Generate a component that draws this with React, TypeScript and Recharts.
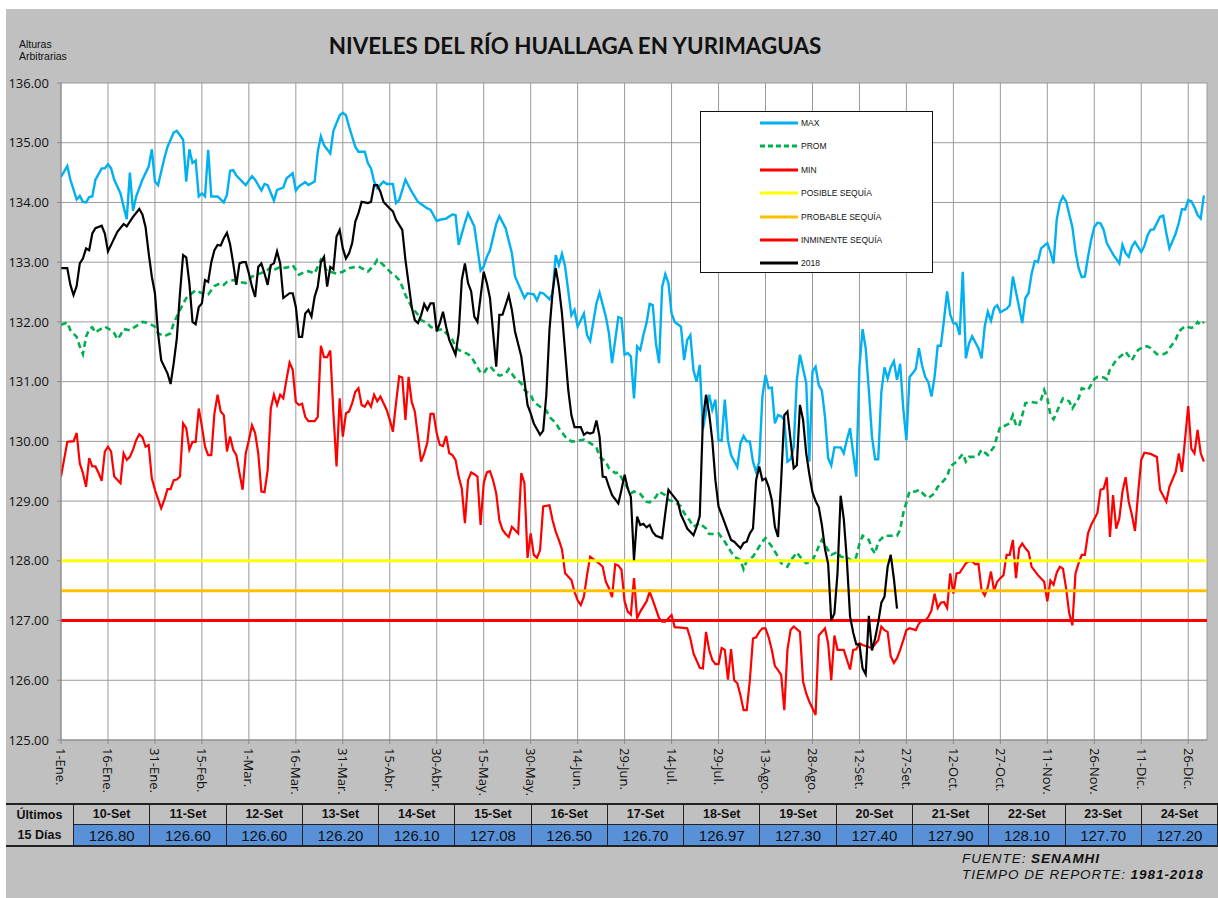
import React from "react";
import { LineChart, Line, XAxis, YAxis, CartesianGrid, ReferenceLine } from "recharts";

// dias del año (año bisiesto, como en la hoja original) y etiquetas del eje X
const ticksDias = [1, 16, 31, 46, 61, 76, 91, 106, 121, 136, 151, 166, 181, 196, 211, 226, 241, 256, 271, 286, 301, 316, 331, 346, 361];
const ticksFechas = ["1-Ene.", "16-Ene.", "31-Ene.", "15-Feb.", "1-Mar.", "16-Mar.", "31-Mar.", "15-Abr.", "30-Abr.", "15-May.", "30-May.", "14-Jun.", "29-Jun.", "14-Jul.", "29-Jul.", "13-Ago.", "28-Ago.", "12-Set.", "27-Set.", "12-Oct.", "27-Oct.", "11-Nov.", "26-Nov.", "11-Dic.", "26-Dic."];
const ticksNivel = [125, 126, 127, 128, 129, 130, 131, 132, 133, 134, 135, 136];

// umbrales de sequia
const posibleSequia = 128;
const probableSequia = 127.5;
const inminenteSequia = 127;

// [dia, nivel]
const serieMax: [number, number][] = [
  [1,134.43],[3,134.61],[4,134.38],[6,134.05],[7,134.11],[8,134.01],[9,134.0],[10,134.09],[11,134.1],[12,134.38],[14,134.57],[15,134.57],[16,134.64],[17,134.57],[18,134.38],[20,134.15],[21,133.93],[22,133.72],[23,134.5],[24,133.86],[25,134.1],[27,134.38],[29,134.6],[30,134.89],[31,134.35],[32,134.29],[34,134.74],[35,134.93],[37,135.17],[38,135.2],[40,135.05],[41,134.35],[42,134.89],[43,134.66],[44,134.7],[45,134.1],[46,134.15],[47,134.1],[48,134.88],[49,134.1],[51,134.1],[53,134.0],[54,134.13],[55,134.53],[56,134.54],[57,134.45],[60,134.29],[62,134.44],[63,134.38],[65,134.2],[66,134.31],[67,134.29],[69,134.03],[70,134.21],[72,134.25],[73,134.4],[75,134.49],[76,134.2],[77,134.27],[79,134.34],[80,134.29],[82,134.35],[83,134.85],[84,135.11],[85,134.96],[87,134.82],[88,135.2],[90,135.46],[91,135.5],[92,135.46],[93,135.27],[94,135.1],[95,134.93],[96,134.85],[98,134.85],[99,134.66],[100,134.57],[101,134.35],[102,134.24],[104,134.35],[105,134.31],[107,134.31],[108,133.99],[109,134.04],[111,134.38],[113,134.18],[115,134.01],[118,133.9],[119,133.88],[121,133.69],[122,133.71],[124,133.73],[126,133.8],[127,133.79],[128,133.29],[130,133.66],[131,133.82],[133,133.6],[135,132.86],[136,132.93],[137,133.09],[138,133.2],[140,133.64],[141,133.77],[143,133.57],[145,133.15],[146,132.76],[149,132.4],[150,132.48],[152,132.46],[153,132.36],[154,132.49],[155,132.48],[157,132.38],[158,132.48],[159,133.12],[160,132.95],[161,133.14],[162,132.93],[164,132.11],[165,132.2],[166,131.92],[168,132.14],[169,131.78],[170,131.68],[172,132.31],[173,132.49],[175,132.09],[176,131.81],[177,131.31],[179,132.08],[180,132.06],[181,131.45],[182,131.48],[183,131.42],[184,130.72],[185,131.59],[186,131.53],[187,131.78],[188,131.98],[189,132.3],[190,132.28],[191,131.64],[192,131.31],[193,132.59],[194,132.8],[195,132.65],[196,132.14],[197,132.0],[199,131.92],[200,131.36],[201,131.7],[202,131.78],[203,131.19],[204,131.0],[205,131.28],[206,130.2],[207,130.5],[208,130.78],[209,130.53],[210,130.7],[211,130.02],[212,130.01],[213,130.7],[214,130.02],[215,129.77],[217,129.57],[218,129.97],[219,130.09],[220,130.0],[221,130.0],[222,129.66],[223,129.49],[224,129.66],[225,130.75],[226,131.11],[227,130.89],[228,130.9],[229,130.3],[230,130.44],[231,130.42],[232,130.36],[233,129.66],[234,129.7],[235,129.9],[236,131.03],[237,131.45],[239,130.98],[240,129.66],[241,131.17],[242,131.25],[243,130.94],[244,130.85],[245,130.41],[246,129.72],[247,129.6],[248,129.9],[250,129.9],[251,129.8],[252,130.03],[253,130.22],[254,129.8],[255,129.41],[256,131.25],[257,131.88],[258,131.56],[259,130.86],[260,130.08],[261,129.7],[262,129.7],[263,130.83],[264,131.24],[265,131.05],[266,131.24],[267,131.34],[268,131.03],[269,131.3],[270,130.55],[271,130.02],[272,131.08],[273,131.14],[274,131.21],[275,131.56],[276,131.27],[277,131.08],[278,130.99],[279,130.75],[280,131.08],[281,131.6],[282,131.6],[283,132.03],[284,132.51],[285,132.12],[286,131.98],[287,131.97],[288,131.78],[289,132.84],[290,131.39],[291,131.64],[292,131.76],[294,131.56],[295,131.39],[296,131.92],[297,132.17],[298,132.02],[299,132.23],[300,132.28],[301,132.16],[302,132.19],[303,132.22],[304,132.28],[305,132.76],[306,132.5],[308,131.98],[309,132.4],[310,132.48],[311,132.81],[312,133.02],[313,133.0],[314,133.23],[316,133.32],[317,133.17],[318,132.98],[319,133.71],[320,133.99],[321,134.1],[322,134.02],[324,133.59],[325,133.18],[326,132.9],[327,132.75],[328,132.76],[329,133.09],[330,133.37],[331,133.59],[332,133.66],[333,133.65],[334,133.54],[335,133.32],[337,133.13],[339,132.98],[340,133.29],[341,133.15],[342,133.09],[343,133.26],[344,133.34],[346,133.17],[347,133.27],[348,133.45],[349,133.54],[350,133.55],[352,133.76],[353,133.78],[354,133.49],[355,133.23],[357,133.48],[358,133.66],[359,133.89],[360,133.88],[361,134.04],[362,134.02],[363,133.92],[364,133.79],[365,133.73],[366,134.12],
];

const serieProm: [number, number][] = [
  [1,131.95],[3,131.99],[4,131.86],[6,131.75],[7,131.59],[8,131.46],[9,131.75],[10,131.88],[11,131.91],[12,131.82],[13,131.86],[15,131.92],[17,131.86],[18,131.81],[19,131.71],[20,131.78],[21,131.88],[23,131.86],[25,131.93],[27,132.0],[29,131.98],[31,131.92],[32,131.81],[34,131.76],[36,131.81],[37,131.98],[39,132.2],[41,132.4],[44,132.53],[46,132.48],[48,132.46],[50,132.6],[52,132.65],[53,132.62],[54,132.67],[56,132.7],[58,132.67],[60,132.65],[62,132.76],[64,132.8],[66,132.84],[67,132.87],[68,132.92],[69,132.87],[71,132.92],[72,132.9],[74,132.92],[75,132.95],[76,132.87],[77,132.79],[79,132.84],[80,132.85],[82,132.81],[84,133.04],[85,132.96],[86,132.84],[87,132.84],[89,132.81],[91,132.84],[93,132.9],[95,132.92],[96,132.93],[98,132.87],[99,132.84],[101,132.95],[102,133.04],[103,133.0],[105,132.9],[107,132.79],[108,132.76],[109,132.7],[110,132.59],[111,132.45],[113,132.25],[115,132.12],[116,132.03],[118,131.98],[119,131.92],[121,131.86],[123,131.88],[124,131.81],[126,131.7],[127,131.59],[128,131.53],[131,131.46],[132,131.42],[134,131.24],[135,131.15],[136,131.14],[137,131.22],[138,131.26],[140,131.14],[141,131.1],[143,131.13],[144,131.21],[146,131.06],[148,130.97],[149,130.86],[151,130.78],[152,130.66],[154,130.58],[156,130.52],[157,130.41],[159,130.31],[160,130.22],[162,130.08],[164,130.0],[165,130.0],[167,130.02],[168,130.03],[170,129.97],[172,129.9],[173,129.74],[175,129.66],[176,129.55],[178,129.47],[179,129.48],[181,129.3],[183,129.13],[184,129.16],[186,129.12],[188,128.99],[189,128.98],[191,129.07],[192,129.16],[194,129.1],[195,129.02],[197,128.99],[199,128.91],[200,128.8],[202,128.66],[203,128.57],[205,128.63],[207,128.54],[208,128.45],[210,128.45],[211,128.46],[213,128.32],[215,128.15],[216,128.07],[218,128.01],[219,127.86],[220,128.0],[222,128.07],[224,128.24],[225,128.32],[226,128.38],[228,128.24],[230,128.07],[231,127.96],[233,127.9],[234,128.0],[236,128.14],[237,128.07],[239,127.96],[241,128.0],[243,128.24],[244,128.35],[246,128.18],[247,128.1],[249,128.15],[250,128.07],[252,128.05],[254,127.99],[255,128.07],[256,128.29],[257,128.42],[259,128.35],[260,128.2],[261,128.12],[262,128.32],[264,128.42],[266,128.42],[268,128.42],[269,128.52],[270,128.8],[272,129.16],[274,129.16],[275,129.19],[277,129.09],[278,129.05],[280,129.13],[281,129.24],[282,129.29],[284,129.41],[285,129.58],[287,129.66],[289,129.79],[290,129.66],[291,129.74],[293,129.74],[294,129.77],[295,129.86],[297,129.77],[299,129.91],[300,130.09],[301,130.25],[302,130.25],[304,130.3],[305,130.44],[306,130.27],[307,130.25],[308,130.44],[309,130.64],[311,130.66],[313,130.64],[314,130.7],[315,130.86],[316,130.72],[317,130.44],[318,130.37],[320,130.61],[321,130.72],[323,130.67],[324,130.55],[326,130.72],[327,130.89],[329,130.86],[331,131.04],[332,131.08],[334,131.07],[335,131.04],[336,131.2],[338,131.36],[339,131.41],[340,131.45],[341,131.5],[343,131.36],[344,131.45],[345,131.53],[347,131.59],[348,131.59],[349,131.56],[351,131.46],[353,131.46],[354,131.48],[355,131.56],[357,131.7],[358,131.84],[360,131.93],[362,131.9],[363,131.92],[364,132.0],[365,131.95],[366,132.0],
];

const serieMin: [number, number][] = [
  [1,129.41],[3,129.99],[4,130.0],[5,130.0],[6,130.14],[7,129.63],[8,129.47],[9,129.24],[10,129.72],[11,129.58],[12,129.58],[13,129.47],[14,129.34],[15,129.83],[16,129.91],[17,129.83],[18,129.41],[20,129.3],[21,129.8],[22,129.69],[23,129.74],[24,129.86],[25,130.02],[26,130.12],[27,130.07],[28,129.91],[29,129.94],[30,129.38],[31,129.19],[33,128.88],[34,129.02],[35,129.2],[36,129.2],[37,129.35],[38,129.36],[39,129.41],[40,130.3],[41,130.22],[42,129.86],[43,129.99],[44,129.99],[45,130.55],[46,130.25],[47,129.91],[48,129.77],[49,129.77],[50,130.47],[51,130.78],[52,130.5],[53,130.44],[54,129.83],[55,130.08],[56,129.86],[57,129.77],[58,129.47],[59,129.19],[60,129.8],[61,130.02],[62,130.27],[63,130.14],[64,129.8],[65,129.16],[66,129.15],[67,129.52],[68,130.55],[69,130.78],[70,130.61],[71,130.78],[72,130.72],[73,131.03],[74,131.32],[75,131.2],[76,130.66],[77,130.61],[78,130.63],[79,130.41],[80,130.34],[82,130.34],[83,130.41],[84,131.6],[85,131.41],[86,131.41],[87,131.52],[88,130.47],[89,129.58],[90,130.72],[91,130.08],[92,130.47],[93,130.5],[94,130.64],[95,130.83],[96,130.89],[97,130.61],[98,130.58],[99,130.67],[100,130.58],[101,130.78],[102,130.67],[103,130.75],[105,130.53],[106,130.36],[107,130.16],[108,130.64],[109,131.09],[110,131.07],[111,130.36],[112,131.08],[113,130.66],[114,130.5],[115,130.08],[116,129.66],[117,129.8],[118,129.98],[119,130.46],[120,130.46],[121,130.13],[122,129.94],[123,129.92],[124,130.09],[125,129.8],[126,129.77],[127,129.69],[128,129.41],[129,129.21],[130,128.63],[131,129.35],[132,129.48],[133,129.45],[134,129.41],[135,128.6],[136,129.3],[137,129.48],[138,129.5],[139,129.35],[140,129.13],[141,128.68],[142,128.52],[143,128.45],[144,128.4],[145,128.57],[147,128.46],[148,129.47],[149,129.3],[150,128.05],[151,128.46],[152,128.1],[153,128.05],[154,128.18],[155,128.91],[157,128.93],[158,128.68],[159,128.49],[160,128.35],[161,128.19],[162,127.79],[164,127.68],[165,127.48],[166,127.34],[167,127.26],[168,127.4],[169,127.76],[170,128.07],[171,128.03],[172,127.99],[173,127.95],[174,127.9],[175,127.65],[176,127.54],[177,127.39],[178,127.94],[179,127.92],[180,127.85],[181,127.32],[182,127.15],[183,127.1],[184,127.71],[185,127.04],[186,127.15],[188,127.32],[189,127.48],[190,127.34],[192,127.04],[193,126.98],[194,126.98],[195,127.04],[196,127.09],[197,126.89],[199,126.88],[201,126.87],[202,126.7],[203,126.45],[205,126.21],[206,126.2],[207,126.81],[208,126.51],[209,126.34],[210,126.27],[211,126.27],[212,126.54],[213,126.51],[214,126.01],[215,126.52],[216,126.0],[217,125.95],[218,125.75],[219,125.5],[220,125.5],[221,126.0],[222,126.7],[223,126.72],[224,126.81],[225,126.87],[226,126.87],[227,126.72],[228,126.51],[229,126.24],[230,126.17],[231,126.09],[232,125.5],[233,126.51],[234,126.84],[235,126.9],[237,126.81],[238,125.98],[239,125.78],[240,125.64],[241,125.53],[242,125.42],[243,126.75],[245,126.87],[246,126.62],[247,126.0],[248,126.75],[249,126.51],[250,126.51],[251,126.51],[253,126.18],[254,126.51],[255,126.52],[256,126.62],[257,126.59],[260,126.54],[262,126.67],[263,126.9],[264,126.84],[265,126.81],[266,126.4],[267,126.29],[268,126.37],[269,126.51],[270,126.67],[271,126.84],[272,126.87],[274,126.84],[275,126.95],[276,127.0],[277,127.0],[278,127.06],[279,127.17],[280,127.45],[281,127.21],[282,127.3],[283,127.31],[284,127.21],[285,127.79],[286,127.45],[287,127.79],[288,127.8],[289,127.88],[290,127.96],[291,127.99],[292,127.99],[293,127.94],[294,127.95],[295,127.51],[296,127.42],[297,127.56],[298,127.82],[299,127.5],[300,127.65],[301,127.71],[302,127.76],[303,128.1],[304,128.1],[305,128.35],[306,127.71],[307,128.21],[308,128.29],[309,128.21],[310,128.15],[311,127.9],[313,127.76],[315,127.65],[316,127.32],[317,127.67],[318,127.6],[319,127.8],[320,127.9],[321,127.87],[322,127.54],[323,127.12],[324,126.92],[325,127.79],[326,127.96],[327,128.1],[328,128.1],[329,128.46],[330,128.6],[332,128.8],[333,129.19],[334,129.21],[335,129.4],[336,128.4],[337,129.1],[338,128.54],[339,128.71],[340,129.16],[341,129.4],[342,128.99],[343,128.77],[344,128.5],[345,129.13],[346,129.69],[347,129.81],[349,129.79],[351,129.74],[352,129.19],[354,128.99],[355,129.24],[357,129.49],[358,129.8],[359,129.49],[361,130.59],[362,129.88],[363,129.8],[364,130.19],[365,129.8],[366,129.66],
];

// 2018 hasta el 9-Set; los ultimos 15 dias vienen de la tabla
const serie2018: [number, number][] = [
  [1,132.9],[3,132.9],[4,132.62],[5,132.45],[6,132.6],[7,132.98],[8,133.06],[9,133.23],[10,133.2],[11,133.48],[12,133.57],[14,133.61],[15,133.48],[16,133.18],[17,133.29],[19,133.51],[21,133.64],[22,133.6],[23,133.68],[24,133.76],[26,133.89],[27,133.8],[28,133.59],[29,133.15],[30,132.76],[31,132.48],[32,131.81],[33,131.36],[35,131.14],[36,130.96],[37,131.31],[38,131.73],[39,132.48],[40,133.12],[41,133.08],[42,132.65],[43,132.0],[44,131.96],[45,132.25],[46,132.31],[47,132.7],[48,132.67],[49,133.0],[50,133.2],[51,133.29],[52,133.28],[53,133.4],[54,133.49],[55,133.3],[56,132.98],[57,132.62],[58,132.98],[59,133.0],[60,133.0],[61,132.81],[62,132.59],[63,132.42],[64,132.92],[65,132.98],[66,132.81],[67,132.62],[68,132.95],[69,132.98],[70,133.18],[71,132.98],[72,132.4],[74,132.48],[75,132.48],[76,132.25],[77,131.75],[78,131.75],[79,132.14],[80,132.2],[81,132.09],[82,132.42],[83,132.59],[84,133.0],[85,133.09],[86,132.59],[87,132.92],[88,132.88],[89,133.43],[90,133.54],[91,133.23],[92,133.06],[93,133.15],[94,133.32],[95,133.68],[96,133.82],[97,134.01],[98,134.0],[99,133.99],[100,134.01],[101,134.29],[102,134.29],[103,134.18],[104,134.01],[106,133.9],[107,133.85],[108,133.71],[110,133.54],[111,133.04],[112,132.65],[113,132.25],[114,132.03],[115,131.98],[116,132.11],[117,132.3],[118,132.2],[119,132.31],[120,132.31],[121,131.84],[122,131.98],[123,132.17],[124,131.92],[125,131.7],[127,131.45],[128,131.81],[129,132.7],[130,132.98],[131,132.65],[132,132.51],[133,132.09],[134,132.0],[136,132.84],[137,132.65],[138,132.4],[140,131.25],[141,132.12],[142,132.12],[143,132.28],[144,132.45],[145,132.2],[146,131.84],[148,131.42],[150,130.61],[151,130.47],[152,130.3],[154,130.11],[155,130.18],[156,130.78],[157,131.86],[158,132.5],[159,132.9],[160,132.59],[161,132.14],[162,131.5],[163,130.86],[164,130.44],[165,130.24],[166,130.24],[167,130.24],[168,130.11],[169,130.15],[170,130.13],[171,130.15],[172,130.35],[173,130.08],[174,129.41],[175,129.4],[176,129.24],[177,129.1],[179,128.96],[180,129.19],[181,129.44],[182,129.21],[183,129.07],[184,128.01],[185,128.74],[186,128.6],[187,128.62],[188,128.56],[189,128.6],[190,128.48],[191,128.42],[193,128.38],[194,128.8],[195,129.19],[196,129.12],[198,128.99],[199,128.77],[200,128.66],[201,128.54],[203,128.43],[204,128.57],[205,128.75],[206,130.36],[207,130.78],[208,130.47],[209,130.02],[210,129.35],[211,128.91],[213,128.63],[214,128.49],[215,128.35],[216,128.32],[218,128.21],[219,128.3],[220,128.32],[221,128.46],[222,128.54],[223,129.35],[224,129.58],[225,129.35],[226,129.38],[227,129.24],[228,129.02],[229,128.57],[230,128.4],[231,129.35],[232,130.44],[233,130.5],[234,130.02],[235,129.55],[236,129.6],[237,130.61],[238,130.36],[239,129.8],[240,129.45],[241,129.15],[242,129.0],[243,128.9],[244,128.6],[245,128.2],[246,127.95],[247,127.0],[248,127.12],[249,127.8],[250,129.09],[251,128.7],[252,128.0],[253,127.07],
];

// tabla "Ultimos 15 dias" (10-Set = dia 254)
const ultimasFechas = ["10-Set", "11-Set", "12-Set", "13-Set", "14-Set", "15-Set", "16-Set", "17-Set", "18-Set", "19-Set", "20-Set", "21-Set", "22-Set", "23-Set", "24-Set"];
const ultimosValores = [126.8, 126.6, 126.6, 126.2, 126.1, 127.08, 126.5, 126.7, 126.97, 127.3, 127.4, 127.9, 128.1, 127.7, 127.2];
const primerDiaTabla = 254;

const filas = (s: [number, number][]) => s.map(([d, v]) => ({ d, v }));
const datos2018 = filas(serie2018).concat(ultimosValores.map((v, i) => ({ d: primerDiaTabla + i, v })));

const AZUL = "#00b0f0";
const VERDE = "#00b050";
const ROJO = "#ff0000";
const AMARILLO = "#ffff00";
const NARANJA = "#ffc000";

const leyenda = [
  { nombre: "MAX", color: AZUL, dash: undefined },
  { nombre: "PROM", color: VERDE, dash: "5 3" },
  { nombre: "MIN", color: ROJO, dash: undefined },
  { nombre: "POSIBLE SEQUÍA", color: AMARILLO, dash: undefined },
  { nombre: "PROBABLE SEQUÍA", color: NARANJA, dash: undefined },
  { nombre: "INMINENTE SEQUÍA", color: ROJO, dash: undefined },
  { nombre: "2018", color: "#000", dash: undefined },
];

const fuenteEje = "'Open Sans', 'Noto Sans', sans-serif";
const fuenteNarrow = "'Liberation Sans Narrow', 'Arial Narrow', 'Liberation Sans', Arial, sans-serif";

function TickFecha({ x, y, payload }: any) {
  const i = ticksDias.indexOf(payload.value);
  return (
    <text
      x={x}
      y={y}
      dy="0.35em"
      transform={`rotate(90, ${x}, ${y})`}
      textAnchor="start"
      fontSize={13}
      fontFamily={fuenteEje}
      fill="#111"
    >
      {i >= 0 ? ticksFechas[i] : ""}
    </text>
  );
}

export default function App() {
  const colW = 76.27;
  return (
    <div style={{ position: "absolute", left: 0, top: 0, width: 1218, height: 898, background: "#fff", overflow: "hidden" }}>
      <div style={{ position: "absolute", left: 6, top: 9, width: 1212, height: 889, background: "#c0c0c0" }} />

      <div style={{ position: "absolute", left: 19, top: 38, fontFamily: "'Liberation Sans', Arial, sans-serif", fontSize: 10.5, lineHeight: "12px", color: "#111" }}>
        Alturas<br />Arbitrarias
      </div>
      <div style={{ position: "absolute", left: 0, width: 1150, top: 32, textAlign: "center", fontFamily: "Lato, 'Open Sans', sans-serif", fontWeight: 700, fontSize: 22.4, color: "#111" }}>
        NIVELES DEL RÍO HUALLAGA EN YURIMAGUAS
      </div>

      <div style={{ position: "absolute", left: 0, top: 0 }}>
        <LineChart width={1218} height={898} margin={{ top: 83, right: 11, bottom: 98, left: 0 }}>
          <CartesianGrid stroke="#9a9a9a" strokeWidth={1} fill="#fff" />
          <XAxis
            dataKey="d"
            type="number"
            domain={[1, 367]}
            ticks={ticksDias}
            interval={0}
            height={60}
            tick={<TickFecha />}
            tickSize={4}
            tickMargin={4}
            stroke="#8a8a8a"
            allowDataOverflow
          />
          <YAxis
            type="number"
            domain={[125, 136]}
            ticks={ticksNivel}
            interval={0}
            width={61}
            tickSize={4}
            tickMargin={8}
            stroke="#8a8a8a"
            tick={{ fontSize: 13, fontFamily: fuenteEje, fill: "#111" }}
            tickFormatter={(v: number) => v.toFixed(2)}
            allowDataOverflow
          />
          <Line data={filas(serieMax)} dataKey="v" stroke={AZUL} strokeWidth={2.4} dot={false} isAnimationActive={false} />
          <Line data={filas(serieProm)} dataKey="v" stroke={VERDE} strokeWidth={2.6} strokeDasharray="6 4" dot={false} isAnimationActive={false} />
          <Line data={filas(serieMin)} dataKey="v" stroke={ROJO} strokeWidth={2.2} dot={false} isAnimationActive={false} />
          <ReferenceLine y={posibleSequia} stroke={AMARILLO} strokeWidth={3} />
          <ReferenceLine y={probableSequia} stroke={NARANJA} strokeWidth={3} />
          <ReferenceLine y={inminenteSequia} stroke={ROJO} strokeWidth={3} />
          <Line data={datos2018} dataKey="v" stroke="#000" strokeWidth={2.2} dot={false} isAnimationActive={false} />
        </LineChart>
      </div>

      {/* leyenda */}
      <div style={{ position: "absolute", left: 700, top: 111, width: 233, height: 162, background: "#fff", border: "1.5px solid #111", boxSizing: "border-box" }}>
        {leyenda.map((e, i) => (
          <div key={e.nombre} style={{ position: "absolute", left: 59, top: 4 + i * 23.4, height: 14, display: "flex", alignItems: "center" }}>
            <svg width={38} height={6} style={{ display: "block" }}>
              <line x1={0} y1={3} x2={38} y2={3} stroke={e.color} strokeWidth={3} strokeDasharray={e.dash} />
            </svg>
            <span style={{ marginLeft: 3, fontFamily: "'Liberation Sans', Arial, sans-serif", fontSize: 8.5, color: "#111" }}>{e.nombre}</span>
          </div>
        ))}
      </div>

      {/* tabla ultimos 15 dias */}
      <div style={{ position: "absolute", left: 6, top: 803, width: 1212, height: 44, borderTop: "2px solid #222", borderBottom: "2px solid #222", boxSizing: "border-box", fontFamily: fuenteNarrow }}>
        <div style={{ position: "absolute", left: 0, top: 0, width: 68, height: 40, borderRight: "1.5px solid #222", boxSizing: "border-box", textAlign: "center", fontWeight: 700, fontSize: 12.5, lineHeight: "20px", color: "#111" }}>
          Últimos<br />15 Días
        </div>
        {ultimasFechas.map((f, i) => (
          <div key={f} style={{ position: "absolute", left: 68 + i * colW, top: 0, width: colW, height: 40, borderRight: "1.5px solid #222", boxSizing: "border-box" }}>
            <div style={{ height: 20, borderBottom: "1.5px solid #222", boxSizing: "border-box", textAlign: "center", fontWeight: 700, fontSize: 12.5, lineHeight: "19px", color: "#111" }}>{f}</div>
            <div style={{ height: 20, background: "#5891d8", textAlign: "center", fontSize: 15, lineHeight: "21px", color: "#111" }}>{ultimosValores[i].toFixed(2)}</div>
          </div>
        ))}
      </div>

      <div style={{ position: "absolute", left: 962, top: 851, fontFamily: fuenteNarrow, fontStyle: "italic", fontSize: 13.5, letterSpacing: 0.95, lineHeight: "16px", color: "#111", whiteSpace: "nowrap" }}>
        <div>FUENTE: <b>SENAMHI</b></div>
        <div>TIEMPO DE REPORTE: <b>1981-2018</b></div>
      </div>
    </div>
  );
}
